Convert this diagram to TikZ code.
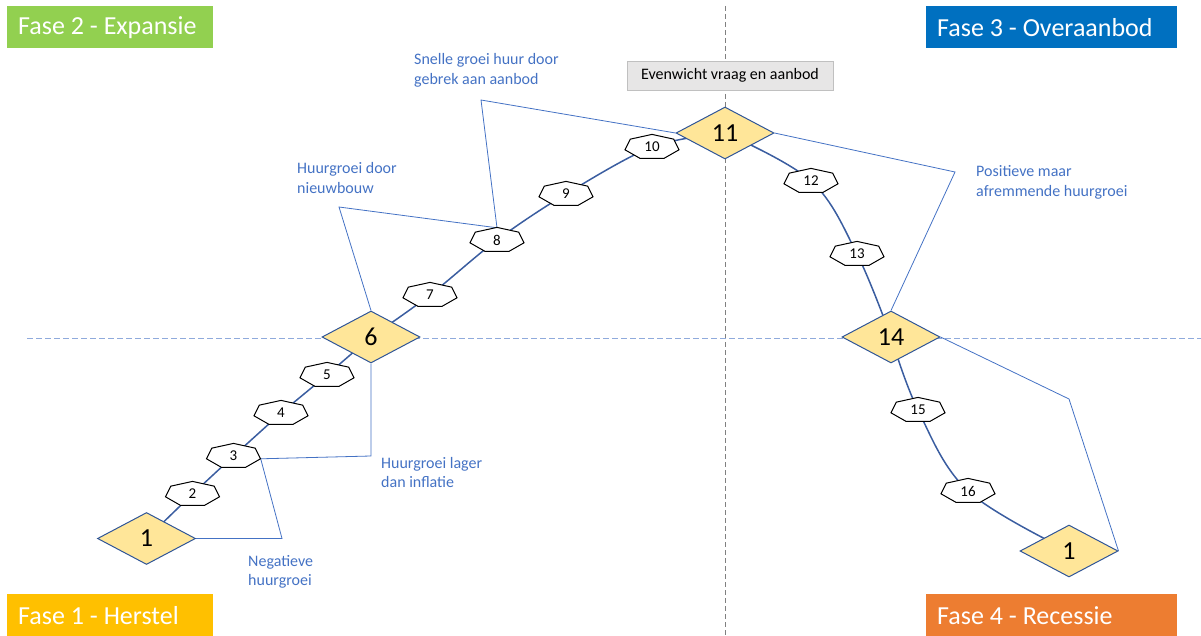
\documentclass[tikz,border=0pt]{standalone}
\usepackage{fontspec}
\setmainfont{Carlito}
\usetikzlibrary{shapes.geometric,backgrounds}

\definecolor{fasegreen}{HTML}{92D050}
\definecolor{faseblue}{HTML}{0070C0}
\definecolor{fasegold}{HTML}{FFC000}
\definecolor{faseorange}{HTML}{ED7D31}
\definecolor{stepfill}{HTML}{FFE699}
\definecolor{stepedge}{HTML}{2F5597}
\definecolor{cycleline}{HTML}{3A5DA0}
\definecolor{noteblue}{HTML}{4472C4}
\definecolor{axisgray}{HTML}{808080}
\definecolor{axisblue}{HTML}{8FAADC}
\definecolor{boxgray}{HTML}{E7E6E6}
\definecolor{boxedge}{HTML}{C0C0C0}

% small heptagon marker: outline first, then the named label node on top
\newcommand\heptagonnode[3]{%
  \draw[heptline] (#2) +(90:27.7pt and 12.6pt) -- +(141.43:27.7pt and 12.6pt)
    -- +(192.86:27.7pt and 12.6pt) -- +(244.29:27.7pt and 12.6pt)
    -- +(295.71:27.7pt and 12.6pt) -- +(347.14:27.7pt and 12.6pt)
    -- +(38.57:27.7pt and 12.6pt) -- cycle;
  \node[heptext] (#1) at (#2) {#3};}

% phase label text, kept on one line and flush left inside its box
\newcommand\phasetext[2]{\makebox[#1][l]{#2}}

\begin{document}
\begin{tikzpicture}[x=1pt,y=-1pt,
  phasebox/.style={anchor=north west, minimum height=42pt, inner xsep=11pt,
    inner ysep=0pt, text=white, font=\fontsize{26}{26}\selectfont},
  stepnode/.style={shape=diamond, shape aspect=1.9, minimum width=98pt,
    minimum height=52pt, inner sep=0pt, draw=stepedge, line width=1pt,
    fill=stepfill, font=\fontsize{26}{26}\selectfont},
  heptline/.style={draw=black, line width=1pt, fill=white, line join=miter},
  heptext/.style={minimum width=54pt, minimum height=24pt, inner sep=0pt,
    font=\fontsize{15}{15}\selectfont},
  note/.style={anchor=base west, inner sep=0pt, align=left, text=noteblue,
    font=\fontsize{16}{19.5}\selectfont},
  callout/.style={draw=noteblue, line width=0.8pt, line join=miter},
  cyclepath/.style={draw=cycleline, line width=1.5pt},
  eqbox/.style={minimum width=206pt, minimum height=29pt, inner sep=0pt,
    fill=boxgray, draw=boxedge, line width=0.8pt, font=\fontsize{16}{16}\selectfont}
]
\useasboundingbox (0,0) rectangle (1201,636);

% phase labels in the four corners
\node[phasebox, fill=fasegreen] (fase2) at (7,6) {\phasetext{184pt}{Fase 2 - Expansie}};
\node[phasebox, fill=faseblue] (fase3) at (926,6) {\phasetext{229pt}{Fase 3 - Overaanbod}};
\node[phasebox, fill=fasegold] (fase1) at (7,594) {\phasetext{184pt}{Fase 1 - Herstel}};
\node[phasebox, fill=faseorange] (fase4) at (926,594) {\phasetext{229pt}{Fase 4 - Recessie}};

% equilibrium label
\node[eqbox] (eq) at (730,75.5) {Evenwicht vraag en aanbod};

% main steps of the cycle
\node[stepnode] (s1) at (146.5,538.5) {1};
\node[stepnode] (s6) at (371,337) {6};
\node[stepnode] (s11) at (725,133) {11};
\node[stepnode] (s14) at (891,337) {14};
\node[stepnode] (s1b) at (1069,551) {1};

% intermediate steps
\heptagonnode{h2}{192.5,494}{2}
\heptagonnode{h3}{233.5,456}{3}
\heptagonnode{h4}{281,413}{4}
\heptagonnode{h5}{327,375}{5}
\heptagonnode{h7}{430,295}{7}
\heptagonnode{h8}{497,240}{8}
\heptagonnode{h9}{566,194}{9}
\heptagonnode{h10}{652,147}{10}
\heptagonnode{h12}{811,181}{12}
\heptagonnode{h13}{857,254}{13}
\heptagonnode{h15}{918,410}{15}
\heptagonnode{h16}{968,491}{16}

% bend points of the bracket lines
\coordinate (b1) at (282,538.5);
\coordinate (b2) at (371,456);
\coordinate (b3) at (339,207);
\coordinate (b4) at (481,100);
\coordinate (b5) at (955,172);
\coordinate (b6) at (1069,399);

% descriptions (anchored on the baseline of their second line)
\node[note] (n1) at (248,585.5) {Negatieve\\huurgroei};
\node[note] (n2) at (381,487.5) {Huurgroei lager\\dan inflatie};
\node[note] (n3) at (297,193.5) {Huurgroei door\\nieuwbouw};
\node[note] (n4) at (414,84.5) {Snelle groei huur door\\gebrek aan aanbod};
\node[note] (n5) at (976,196.5) {Positieve maar\\afremmende huurgroei};

\begin{pgfonlayer}{background}
  % axes
  \draw[axisgray, line width=1pt, dash pattern=on 5pt off 3pt] (725,6) -- (725,636);
  \draw[axisblue, line width=1pt, dash pattern=on 6pt off 3pt] (27,338) -- (1201,338);
  % the cycle
  \draw[cyclepath] (s1.center) -- (h2.center) -- (h3.center) -- (h4.center)
    -- (h5.center) -- (s6.center);
  \draw[cyclepath] plot[smooth, tension=0.55] coordinates
    {(s6) (h7) (h8) (h9) (h10) (s11)};
  \draw[cyclepath] plot[smooth, tension=0.6] coordinates
    {(s11) (h12) (h13) (s14)};
  \draw[cyclepath] plot[smooth, tension=0.6] coordinates
    {(s14) (h15) (h16) (s1b)};
  % brackets linking the descriptions to the cycle
  \draw[callout] (s1.east) -- (b1) -- ([yshift=-2.8pt]h3.east);
  \draw[callout] ([yshift=-2.8pt]h3.east) -- (b2) -- (s6.south);
  \draw[callout] (s6.north) -- (b3) -- (h8.north);
  \draw[callout] (h8.north) -- (b4) -- (s11.west);
  \draw[callout] (s11.east) -- (b5) -- (s14.north);
  \draw[callout] (s14.east) -- (b6) -- (s1b.east);
\end{pgfonlayer}
\end{tikzpicture}
\end{document}
